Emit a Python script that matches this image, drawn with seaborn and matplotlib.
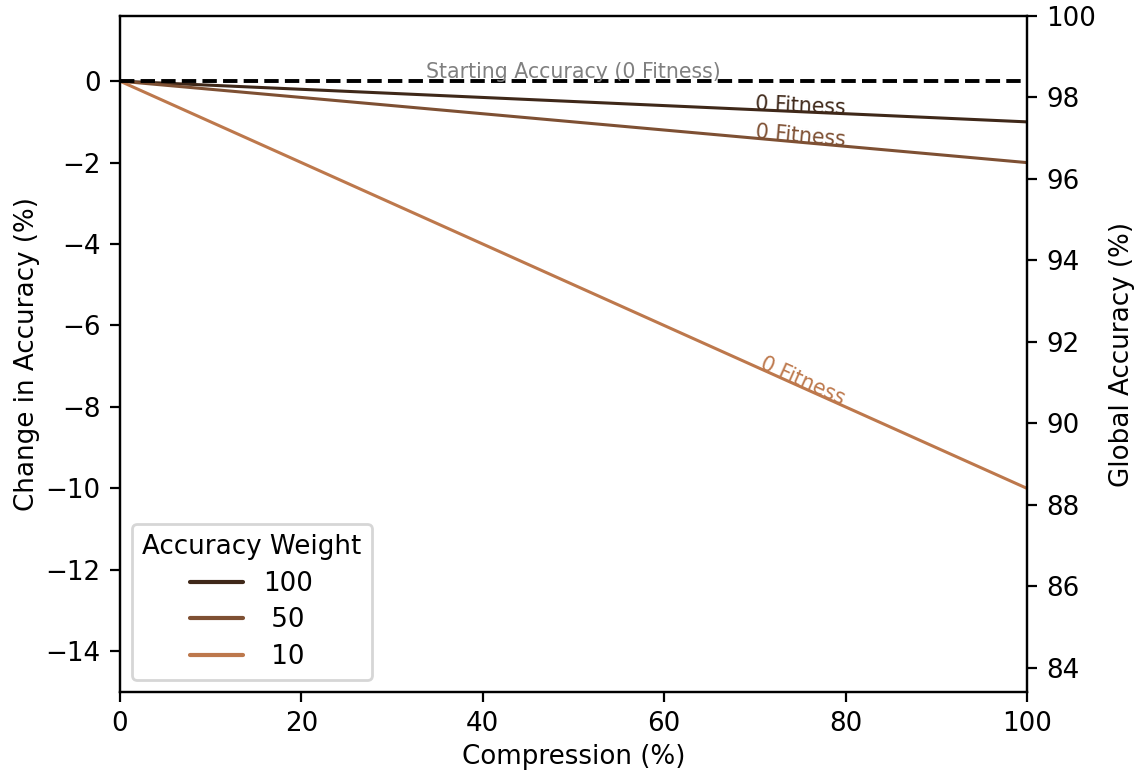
import numpy as np
import pandas as pd
import matplotlib
matplotlib.use("Agg")
import matplotlib.pyplot as plt
import seaborn as sns

compression = [0, 100]
weights = ["100", " 50", " 10"]
change_w100 = [0, -1]
change_w50 = [0, -2]
change_w10 = [0, -10]
starting_accuracy = 98.4
fitness_labels = ["0 Fitness", "0 Fitness", "0 Fitness"]

sns.set_style("ticks")
plt.rcParams['font.family'] = ['DejaVu Sans']
plt.rcParams.update({
    "text.color": "black",
    "axes.labelcolor": "black",
    "xtick.color": "black",
    "ytick.color": "black",
    "axes.edgecolor": "black",
})
FS = 9.4
AFS = 7.4

df = pd.DataFrame({
    "Compression": compression * 3,
    "Change": change_w100 + change_w50 + change_w10,
    "Accuracy Weight": [weights[0]] * 2 + [weights[1]] * 2 + [weights[2]] * 2,
})

palette = sns.color_palette("copper", 4)[:3]

fig = plt.figure(figsize=(1137 / 200, 773 / 200), dpi=200)
ax = fig.add_axes([120 / 1137, 1 - 692 / 773, (1027 - 120) / 1137, (692 - 16) / 773])

ax.axhline(0, color="black", linestyle="--", linewidth=1.4, zorder=3)
sns.lineplot(data=df, x="Compression", y="Change", hue="Accuracy Weight",
             hue_order=weights, palette=palette, linewidth=1.1, ax=ax)

ax.set_xlim(0, 100)
ax.set_ylim(-15, 1.6)
ax.set_xticks([0, 20, 40, 60, 80, 100])
ax.set_yticks([0, -2, -4, -6, -8, -10, -12, -14])
ax.set_xlabel("Compression (%)", fontsize=FS, labelpad=2.5)
ax.set_ylabel("Change in Accuracy (%)", fontsize=FS, labelpad=2)
ax.tick_params(labelsize=FS, width=0.8, length=3.5)
for s in ax.spines.values():
    s.set_linewidth(0.8)
    s.set_color("black")

ax2 = ax.twinx()
ax2.set_ylim(starting_accuracy - 15, starting_accuracy + 1.6)
ax2.set_yticks([84, 86, 88, 90, 92, 94, 96, 98, 100])
ax2.set_ylabel("Global Accuracy (%)", fontsize=FS, labelpad=4.5)
ax2.tick_params(labelsize=FS, width=0.8, length=3.5)
for s in ax2.spines.values():
    s.set_linewidth(0.8)
    s.set_color("black")

ax.text(50, 0.08, "Starting Accuracy (0 Fitness)", color="gray", fontsize=AFS,
        ha="center", va="baseline", zorder=4)

fig.canvas.draw()
ends = [change_w100[1], change_w50[1], change_w10[1]]
for lab, end, col in zip(fitness_labels, ends, palette):
    xl = 75
    yl = end * xl / 100
    p0 = ax.transData.transform((0, 0))
    p1 = ax.transData.transform((100, end))
    ang = np.degrees(np.arctan2(p1[1] - p0[1], p1[0] - p0[0]))
    ax.text(xl, yl, lab, color=col, fontsize=AFS, rotation=ang,
            rotation_mode="anchor", ha="center", va="baseline", zorder=4)

leg = ax.legend(title="Accuracy Weight", loc="lower left", fontsize=FS,
                title_fontsize=FS, frameon=True, labelspacing=0.4,
                borderaxespad=0.45)
leg.get_frame().set_edgecolor("#cccccc")
for line in leg.get_lines():
    line.set_linewidth(1.5)

fig.savefig("out.png", dpi=200)
